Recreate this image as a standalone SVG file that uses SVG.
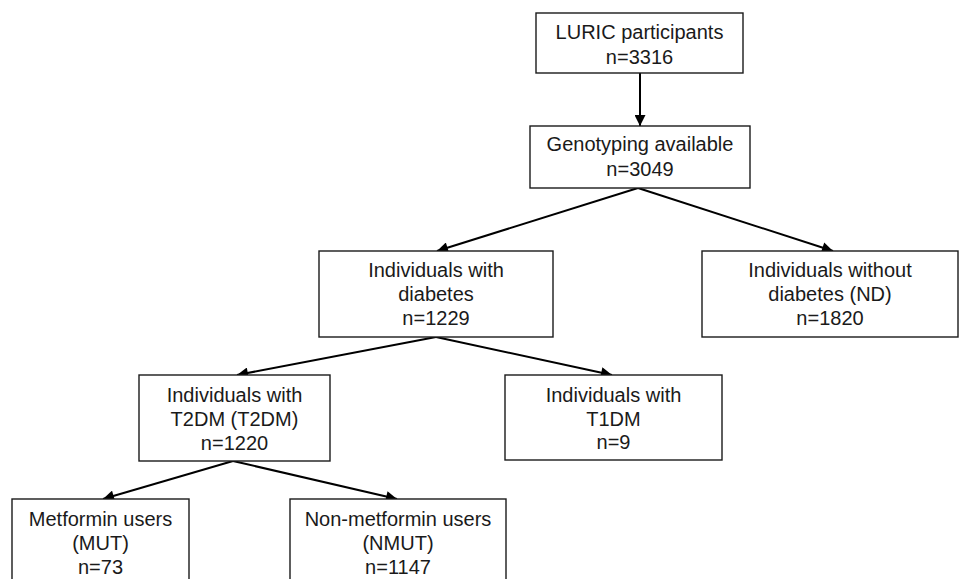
<svg xmlns="http://www.w3.org/2000/svg" width="959" height="579" viewBox="0 0 959 579">
<style>
.box{fill:#fff;stroke:#1a1a1a;stroke-width:1.4}
.t{font-family:"Liberation Sans",Arial,sans-serif;font-size:20px;fill:#1a1a1a;text-anchor:middle}
.c{stroke:#000;stroke-width:2;fill:none;marker-end:url(#ah)}
</style>
<defs>
<marker id="ah" viewBox="0 0 10 10" refX="10" refY="5" markerWidth="6" markerHeight="5.5" orient="auto" markerUnits="strokeWidth">
<path d="M0,0 L10,5 L0,10 z" fill="#000"/>
</marker>
</defs>
<rect width="959" height="579" fill="#fff"/>
<g id="connectors">
<line class="c" x1="640" y1="73" x2="640" y2="126"/>
<line class="c" x1="638" y1="188" x2="437" y2="251"/>
<line class="c" x1="638" y1="188" x2="833" y2="251"/>
<line class="c" x1="436" y1="337" x2="237" y2="375"/>
<line class="c" x1="436" y1="337" x2="612" y2="375"/>
<line class="c" x1="233" y1="461" x2="103" y2="499"/>
<line class="c" x1="233" y1="461" x2="397" y2="499"/>
</g>
<g id="luric">
<rect class="box" x="536" y="13" width="207" height="60"/>
<text class="t" x="639.5" y="39">LURIC participants</text>
<text class="t" x="639.5" y="63.5">n=3316</text>
</g>
<g id="genotyping">
<rect class="box" x="530" y="126" width="220" height="62"/>
<text class="t" x="640" y="150.5">Genotyping available</text>
<text class="t" x="640" y="175.5">n=3049</text>
</g>
<g id="diabetes">
<rect class="box" x="319" y="251" width="234" height="86"/>
<text class="t" x="436" y="277">Individuals with</text>
<text class="t" x="436" y="301">diabetes</text>
<text class="t" x="436" y="325">n=1229</text>
</g>
<g id="nodiabetes">
<rect class="box" x="702" y="251" width="256" height="86"/>
<text class="t" x="830" y="277">Individuals without</text>
<text class="t" x="830" y="301">diabetes (ND)</text>
<text class="t" x="830" y="325">n=1820</text>
</g>
<g id="t2dm">
<rect class="box" x="139" y="375" width="191" height="86"/>
<text class="t" x="234.5" y="402">Individuals with</text>
<text class="t" x="234.5" y="426">T2DM (T2DM)</text>
<text class="t" x="234.5" y="450">n=1220</text>
</g>
<g id="t1dm">
<rect class="box" x="505" y="375" width="217" height="85"/>
<text class="t" x="613.5" y="402">Individuals with</text>
<text class="t" x="613.5" y="425.5">T1DM</text>
<text class="t" x="613.5" y="449">n=9</text>
</g>
<g id="mut">
<rect class="box" x="12" y="499" width="177" height="100"/>
<text class="t" x="100.5" y="526">Metformin users</text>
<text class="t" x="100.5" y="550">(MUT)</text>
<text class="t" x="100.5" y="574">n=73</text>
</g>
<g id="nmut">
<rect class="box" x="290" y="499" width="216" height="100"/>
<text class="t" x="398" y="526">Non-metformin users</text>
<text class="t" x="398" y="550">(NMUT)</text>
<text class="t" x="398" y="574">n=1147</text>
</g>
</svg>
